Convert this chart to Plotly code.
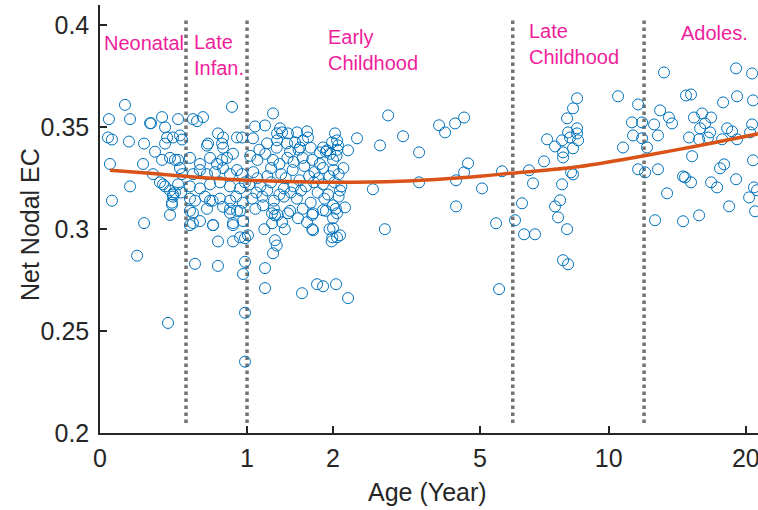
import numpy as np
import plotly.graph_objects as go

# ---------------- data (age in years, net nodal EC) ----------------
neo_age = [0.125, 0.043, 0.152, 0.272, 0.340, 0.445, 0.359, 0.038, 0.058, 0.146, 0.231, 0.372,
           0.411, 0.458, 0.472, 0.296, 0.048, 0.225, 0.340, 0.391, 0.445, 0.458, 0.284, 0.327,
           0.346, 0.359, 0.391, 0.424, 0.411, 0.152, 0.058, 0.404, 0.391, 0.231, 0.191, 0.378,
           0.411, 0.404, 0.472, 0.424, 0.266, 0.359, 0.445, 0.465]
neo_ec = [0.361, 0.354, 0.354, 0.352, 0.355, 0.354, 0.350, 0.345, 0.344, 0.343, 0.342, 0.345,
          0.345, 0.346, 0.344, 0.338, 0.332, 0.332, 0.334, 0.335, 0.334, 0.330, 0.327, 0.323,
          0.322, 0.321, 0.319, 0.318, 0.316, 0.321, 0.314, 0.313, 0.307, 0.303, 0.287, 0.254,
          0.317, 0.312, 0.327, 0.334, 0.352, 0.342, 0.322, 0.318]

inf_age = [0.550, 0.580, 0.625, 0.863, 0.664, 0.656, 0.778, 0.786, 0.744, 0.786, 0.908, 0.953,
           0.528, 0.602, 0.680, 0.736, 0.778, 0.820, 0.872, 0.550, 0.602, 0.656, 0.720, 0.786,
           0.846, 0.908, 0.953, 0.528, 0.602, 0.680, 0.761, 0.846, 0.935, 0.981, 0.528, 0.565,
           0.640, 0.700, 0.760, 0.846, 0.900, 0.960, 0.528, 0.656, 0.786, 0.846, 0.935, 0.550,
           0.704, 0.872, 0.963, 0.550, 0.528, 0.602, 0.680, 0.704, 0.744, 0.565, 0.744, 0.872,
           0.872, 0.935, 0.981, 1.009, 0.981, 0.963, 0.981, 0.981, 0.846, 0.908]
inf_ec = [0.354, 0.353, 0.355, 0.360, 0.342, 0.341, 0.342, 0.340, 0.347, 0.345, 0.345, 0.345,
          0.335, 0.332, 0.335, 0.332, 0.334, 0.335, 0.337, 0.327, 0.329, 0.327, 0.328, 0.330,
          0.327, 0.329, 0.327, 0.321, 0.320, 0.322, 0.323, 0.321, 0.320, 0.323, 0.315, 0.314,
          0.316, 0.314, 0.315, 0.314, 0.316, 0.313, 0.309, 0.310, 0.311, 0.308, 0.309, 0.303,
          0.302, 0.303, 0.304, 0.308, 0.302, 0.304, 0.314, 0.302, 0.294, 0.283, 0.282, 0.302,
          0.294, 0.296, 0.2956, 0.297, 0.284, 0.278, 0.259, 0.235, 0.310, 0.309]

early_age = [1.261, 1.077, 1.177, 1.337, 1.359, 1.304, 1.426, 1.532, 1.654, 1.666, 1.057, 1.198,
             1.304, 1.415, 1.508, 1.604, 1.567, 2.028, 2.057, 1.986, 2.071, 1.862, 1.916, 1.821,
             2.220, 2.359, 2.744,
             1.12, 1.30, 1.45, 1.55, 1.70, 1.90, 2.06,
             1.03, 1.10, 1.18, 1.26, 1.33, 1.42, 1.49, 1.60, 1.72, 1.82, 1.96, 2.00, 2.05,
             1.06, 1.24, 1.35, 1.48, 1.62, 1.75, 1.86, 2.01, 2.15,
             1.10, 1.20, 1.40, 1.56, 1.68, 1.80, 1.95, 2.08,
             1.02, 1.13, 1.24, 1.38, 1.49, 1.64, 1.74, 1.86, 2.02, 2.12, 2.62,
             1.09, 1.20, 1.33, 1.46, 1.58, 1.79, 1.93, 2.10,
             1.05, 1.15, 1.27, 1.38, 1.53, 1.70, 1.88, 2.08,
             1.08, 1.27, 1.31, 1.45, 1.60, 1.72, 1.90, 2.04,
             1.157, 1.250, 1.282, 1.250, 1.359, 1.426, 1.543, 1.654, 1.730, 1.862, 2.0, 2.057,
             2.0, 2.0, 2.057, 2.100, 2.174, 1.730,
             1.17, 1.39, 1.72, 1.95, 1.99, 1.98, 1.30, 2.83,
             1.282, 1.261, 1.177, 1.177, 1.592, 1.782, 1.862, 2.043, 2.220,
             2.89, 3.173, 3.50, 3.945, 4.087, 4.333, 4.564, 3.50, 4.358, 4.564, 4.669, 5.056,
             4.358, 5.470, 5.655, 5.562]
early_ec = [0.3568, 0.3504, 0.3509, 0.3495, 0.3475, 0.3470, 0.3470, 0.3475, 0.3480, 0.3450, 0.3446, 0.3421,
            0.3436, 0.3421, 0.3426, 0.3436, 0.3401, 0.3470, 0.3436, 0.3426, 0.3411, 0.3401, 0.3387, 0.3377,
            0.3387, 0.3446, 0.3411,
            0.339, 0.340, 0.338, 0.339, 0.340, 0.338, 0.339,
            0.336, 0.334, 0.337, 0.334, 0.332, 0.335, 0.333, 0.335, 0.334, 0.332, 0.337, 0.334, 0.336,
            0.328, 0.330, 0.327, 0.329, 0.331, 0.328, 0.330, 0.329, 0.330,
            0.325, 0.326, 0.325, 0.324, 0.326, 0.325, 0.326, 0.327,
            0.322, 0.321, 0.323, 0.320, 0.321, 0.321, 0.323, 0.322, 0.323, 0.321, 0.3196,
            0.318, 0.319, 0.317, 0.318, 0.319, 0.318, 0.317, 0.319,
            0.315, 0.316, 0.314, 0.316, 0.315, 0.313, 0.315, 0.316,
            0.310, 0.310, 0.307, 0.309, 0.310, 0.307, 0.309, 0.310,
            0.3117, 0.3078, 0.3068, 0.3029, 0.3034, 0.3078, 0.3054, 0.3034, 0.3078, 0.3093, 0.3117, 0.3078,
            0.3054, 0.3005, 0.2960, 0.2970, 0.3107, 0.2995,
            0.300, 0.300, 0.300, 0.300, 0.296, 0.294, 0.292, 0.300,
            0.2946, 0.2882, 0.2809, 0.2711, 0.2686, 0.2730, 0.2720, 0.2730, 0.2662,
            0.3558, 0.3456, 0.3377, 0.3510, 0.3475, 0.3519, 0.3548, 0.3230, 0.3240, 0.3279, 0.3323, 0.3200,
            0.3112, 0.3029, 0.3284, 0.2706]

late_age = [6.558, 6.702, 6.312, 6.074, 6.383, 6.775, 7.112, 7.228, 7.545, 7.832, 7.873, 7.873,
            8.042, 8.300, 8.478, 8.085, 8.170, 8.478, 8.478, 8.523, 8.300, 8.213, 8.300, 7.832,
            7.749, 7.545, 7.667, 8.042, 7.873, 8.085, 10.50, 10.77, 11.28, 11.64, 11.88, 11.34,
            11.88, 11.64, 12.06, 12.18]
late_ec = [0.3289, 0.3225, 0.3127, 0.3044, 0.2975, 0.2975, 0.3333, 0.3441, 0.3406, 0.3436, 0.3377, 0.3352,
           0.3544, 0.3593, 0.3642, 0.3475, 0.3450, 0.3495, 0.3470, 0.3436, 0.3397, 0.3279, 0.3269, 0.3220,
           0.3142, 0.3112, 0.3058, 0.3000, 0.2848, 0.2828, 0.3652, 0.3401, 0.3524, 0.3612, 0.3524, 0.3460,
           0.3446, 0.3294, 0.3279, 0.3401]

adol_age = [13.28, 12.63, 13.02, 12.88, 13.62, 13.83, 14.84, 15.22, 15.45, 16.09, 16.83, 15.93,
            16.33, 16.75, 15.07, 15.85, 16.58, 17.87, 19.15, 19.06, 20.63, 18.23, 18.68, 19.15,
            17.78, 20.63, 20.43, 15.30, 12.88, 14.62, 14.77, 15.22, 16.83, 17.34, 17.60, 17.96,
            19.06, 20.73, 20.83, 20.33, 21.14, 13.49, 18.41, 20.94, 12.69, 14.62, 15.85, 20.73]
adol_ec = [0.3769, 0.3514, 0.3583, 0.3460, 0.3548, 0.3519, 0.3656, 0.3661, 0.3548, 0.3568, 0.3548, 0.3495,
           0.3519, 0.3475, 0.3450, 0.3441, 0.3450, 0.3622, 0.3652, 0.3789, 0.3764, 0.3495, 0.3480, 0.3441,
           0.3441, 0.3514, 0.3475, 0.3358, 0.3294, 0.3259, 0.3254, 0.3230, 0.3230, 0.3205, 0.3299, 0.3318,
           0.3245, 0.3338, 0.3205, 0.3156, 0.3191, 0.3176, 0.3112, 0.3088, 0.3044, 0.3039, 0.3068, 0.3632]

# fitted trajectory
fit_age = [0.048, 0.266, 0.486, 1.0, 1.567, 2.0, 3.11, 5.0, 5.9, 8.61, 12.1, 15.9, 21.5]
fit_ec = [0.3289, 0.3274, 0.3260, 0.3240, 0.3233, 0.3230, 0.3235, 0.3260, 0.3274, 0.3308, 0.3362, 0.3411, 0.3470]

# developmental stage boundaries (years) and labels
stage_bounds = [0.5, 1, 6, 12]
stage_labels = ["Neonatal", "Late<br>Infan.", "Early<br>Childhood", "Late<br>Childhood", "Adoles."]
stage_label_age = [0.0095, 0.54, 1.9, 6.49, 14.3]
stage_label_ec = [0.3916, 0.3855, 0.388, 0.3907, 0.3965]

tick_ages = [0, 1, 2, 5, 10, 20]
tick_text = ["0", "1", "2", "5", "10", "20"]
ytick_vals = [0.2, 0.25, 0.3, 0.35, 0.4]
ytick_text = ["0.2", "0.25", "0.3", "0.35", "0.4"]

# ---------------- figure ----------------
all_age = np.array(neo_age + inf_age + early_age + late_age + adol_age)
all_ec = np.array(neo_ec + inf_ec + early_ec + late_ec + adol_ec)

FONT = "Liberation Sans, Arial, sans-serif"
AXC = "#262626"

fig = go.Figure()

for b in stage_bounds:
    fig.add_trace(go.Scatter(
        x=[np.log1p(b), np.log1p(b)], y=[0.2049, 0.4025], mode="lines",
        line=dict(color="#737373", width=3.5, dash="dot"),
        hoverinfo="skip", showlegend=False))

fig.add_trace(go.Scatter(
    x=np.log1p(all_age), y=all_ec, mode="markers",
    marker=dict(symbol="circle-open", size=11, color="#0072BD", line=dict(width=1, color="#0072BD")),
    showlegend=False))

fig.add_trace(go.Scatter(
    x=np.log1p(fit_age), y=fit_ec, mode="lines", line=dict(color="#D95319", width=3.5, shape="spline"),
    showlegend=False))

for lab, a, v in zip(stage_labels, stage_label_age, stage_label_ec):
    fig.add_annotation(x=np.log1p(a), y=v, xref="x", yref="y", text=lab, showarrow=False,
                       xanchor="left", yanchor="middle", align="left",
                       font=dict(family=FONT, size=20, color="#F01E9B"))

# axis titles
fig.add_annotation(x=0, y=0.5, xref="paper", yref="paper", text="Net Nodal EC", textangle=-90,
                   showarrow=False, xanchor="center", yanchor="middle", xshift=-70, yshift=-6,
                   font=dict(family=FONT, size=25, color=AXC))
fig.add_annotation(x=0.497, y=0, xref="paper", yref="paper", text="Age (Year)",
                   showarrow=False, xanchor="center", yanchor="middle", yshift=-59,
                   font=dict(family=FONT, size=25, color=AXC))

fig.update_layout(
    width=758, height=510,
    margin=dict(l=100, r=0, t=5, b=77, autoexpand=False),
    paper_bgcolor="white", plot_bgcolor="white",
    xaxis=dict(range=[0, 3.102], tickvals=list(np.log1p(tick_ages)), ticktext=tick_text,
               ticks="inside", ticklen=7, tickwidth=1.5, tickcolor=AXC, automargin=False,
               showline=True, linecolor=AXC, linewidth=1.5, showgrid=False, zeroline=False,
               ticklabelstandoff=2, ticklabeloverflow="allow",
               tickfont=dict(family=FONT, size=25, color=AXC)),
    yaxis=dict(range=[0.2, 0.41], tickvals=ytick_vals, ticktext=ytick_text,
               ticks="inside", ticklen=7, tickwidth=1.5, tickcolor=AXC, automargin=False,
               showline=True, linecolor=AXC, linewidth=1.5, showgrid=False, zeroline=False,
               ticklabelstandoff=4, ticklabeloverflow="allow",
               tickfont=dict(family=FONT, size=25, color=AXC)),
)

fig.write_html("out.html", config={"displayModeBar": False},
               post_script="document.body.style.margin='0px';")
